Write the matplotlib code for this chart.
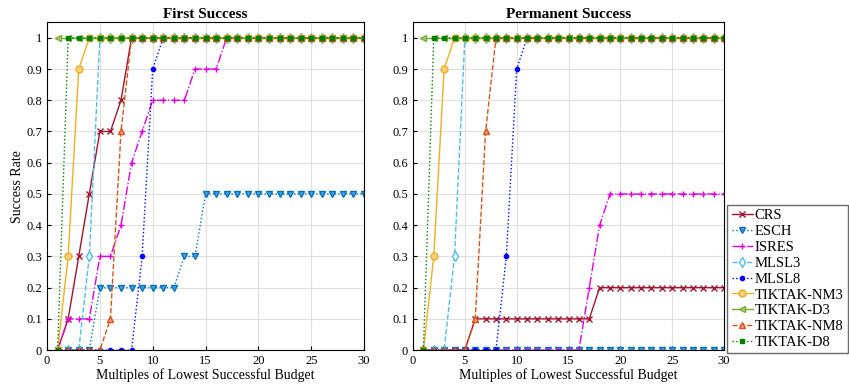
import matplotlib.pyplot as plt

plt.rcParams['font.family'] = ['Liberation Serif', 'DejaVu Serif']

budget = list(range(1, 31))

names = ['CRS', 'ESCH', 'ISRES', 'MLSL3', 'MLSL8',
         'TIKTAK-NM3', 'TIKTAK-D3', 'TIKTAK-NM8', 'TIKTAK-D8']

# first success rates, x = 1..30
first_crs = [0, 0.1, 0.3, 0.5, 0.7, 0.7, 0.8, 1, 1, 1, 1, 1, 1, 1, 1,
             1, 1, 1, 1, 1, 1, 1, 1, 1, 1, 1, 1, 1, 1, 1]
first_esch = [0, 0, 0, 0, 0.2, 0.2, 0.2, 0.2, 0.2, 0.2, 0.2, 0.2, 0.3, 0.3, 0.5,
              0.5, 0.5, 0.5, 0.5, 0.5, 0.5, 0.5, 0.5, 0.5, 0.5, 0.5, 0.5, 0.5, 0.5, 0.5]
first_isres = [0, 0.1, 0.1, 0.1, 0.3, 0.3, 0.4, 0.6, 0.7, 0.8, 0.8, 0.8, 0.8, 0.9, 0.9,
               0.9, 1, 1, 1, 1, 1, 1, 1, 1, 1, 1, 1, 1, 1, 1]
first_mlsl3 = [0, 0, 0, 0.3, 1, 1, 1, 1, 1, 1, 1, 1, 1, 1, 1,
               1, 1, 1, 1, 1, 1, 1, 1, 1, 1, 1, 1, 1, 1, 1]
first_mlsl8 = [0, 0, 0, 0, 0, 0, 0, 0, 0.3, 0.9, 1, 1, 1, 1, 1,
               1, 1, 1, 1, 1, 1, 1, 1, 1, 1, 1, 1, 1, 1, 1]
first_nm3 = [0, 0.3, 0.9, 1, 1, 1, 1, 1, 1, 1, 1, 1, 1, 1, 1,
             1, 1, 1, 1, 1, 1, 1, 1, 1, 1, 1, 1, 1, 1, 1]
first_d3 = [1, 1, 1, 1, 1, 1, 1, 1, 1, 1, 1, 1, 1, 1, 1,
            1, 1, 1, 1, 1, 1, 1, 1, 1, 1, 1, 1, 1, 1, 1]
first_nm8 = [0, 0, 0, 0, 0, 0.1, 0.7, 1, 1, 1, 1, 1, 1, 1, 1,
             1, 1, 1, 1, 1, 1, 1, 1, 1, 1, 1, 1, 1, 1, 1]
first_d8 = [0, 1, 1, 1, 1, 1, 1, 1, 1, 1, 1, 1, 1, 1, 1,
            1, 1, 1, 1, 1, 1, 1, 1, 1, 1, 1, 1, 1, 1, 1]

# permanent success rates
perm_crs = [0, 0, 0, 0, 0, 0.1, 0.1, 0.1, 0.1, 0.1, 0.1, 0.1, 0.1, 0.1, 0.1,
            0.1, 0.1, 0.2, 0.2, 0.2, 0.2, 0.2, 0.2, 0.2, 0.2, 0.2, 0.2, 0.2, 0.2, 0.2]
perm_esch = [0, 0, 0, 0, 0, 0, 0, 0, 0, 0, 0, 0, 0, 0, 0,
             0, 0, 0, 0, 0, 0, 0, 0, 0, 0, 0, 0, 0, 0, 0]
perm_isres = [0, 0, 0, 0, 0, 0, 0, 0, 0, 0, 0, 0, 0, 0, 0,
              0, 0.2, 0.4, 0.5, 0.5, 0.5, 0.5, 0.5, 0.5, 0.5, 0.5, 0.5, 0.5, 0.5, 0.5]
perm_mlsl3 = [0, 0, 0, 0.3, 1, 1, 1, 1, 1, 1, 1, 1, 1, 1, 1,
              1, 1, 1, 1, 1, 1, 1, 1, 1, 1, 1, 1, 1, 1, 1]
perm_mlsl8 = [0, 0, 0, 0, 0, 0, 0, 0, 0.3, 0.9, 1, 1, 1, 1, 1,
              1, 1, 1, 1, 1, 1, 1, 1, 1, 1, 1, 1, 1, 1, 1]
perm_nm3 = [0, 0.3, 0.9, 1, 1, 1, 1, 1, 1, 1, 1, 1, 1, 1, 1,
            1, 1, 1, 1, 1, 1, 1, 1, 1, 1, 1, 1, 1, 1, 1]
perm_d3 = [1, 1, 1, 1, 1, 1, 1, 1, 1, 1, 1, 1, 1, 1, 1,
           1, 1, 1, 1, 1, 1, 1, 1, 1, 1, 1, 1, 1, 1, 1]
perm_nm8 = [0, 0, 0, 0, 0, 0.1, 0.7, 1, 1, 1, 1, 1, 1, 1, 1,
            1, 1, 1, 1, 1, 1, 1, 1, 1, 1, 1, 1, 1, 1, 1]
perm_d8 = [0, 1, 1, 1, 1, 1, 1, 1, 1, 1, 1, 1, 1, 1, 1,
           1, 1, 1, 1, 1, 1, 1, 1, 1, 1, 1, 1, 1, 1, 1]

first = [first_crs, first_esch, first_isres, first_mlsl3, first_mlsl8,
         first_nm3, first_d3, first_nm8, first_d8]
perm = [perm_crs, perm_esch, perm_isres, perm_mlsl3, perm_mlsl8,
        perm_nm3, perm_d3, perm_nm8, perm_d8]

styles = [
    dict(color='#A2142F', ls='-', marker='x', ms=4, mfc='#A2142F'),
    dict(color='#0072BD', ls=':', marker='v', ms=5, mfc='#4DA3DD'),
    dict(color='#E000E0', ls='-.', marker='+', ms=4, mfc='#E000E0'),
    dict(color='#4DBEEE', ls='--', marker='d', ms=5, mfc='white'),
    dict(color='#0000FF', ls=':', marker='o', ms=3, mfc='#0000FF'),
    dict(color='#EDB120', ls='-', marker='o', ms=5, mfc='#F5D080'),
    dict(color='#77AC30', ls='-', marker='<', ms=5, mfc='#A8CC80'),
    dict(color='#D95319', ls='--', marker='^', ms=5, mfc='#F0A080'),
    dict(color='#008000', ls=':', marker='s', ms=3, mfc='#008000'),
]

fig = plt.figure(figsize=(8.49, 3.89), dpi=100)
ax1 = fig.add_axes([0.0554, 0.100, 0.3734, 0.843])
ax2 = fig.add_axes([0.4865, 0.100, 0.3663, 0.843])

for ax, data, title in [(ax1, first, 'First Success'), (ax2, perm, 'Permanent Success')]:
    for name, vals, st in zip(names, data, styles):
        ax.plot(budget, vals, label=name, lw=1.0, color=st['color'], ls=st['ls'],
                marker=st['marker'], ms=st['ms'], mfc=st['mfc'], mec=st['color'])
    ax.set_xlim(0, 30)
    ax.set_ylim(0, 1.05)
    ax.set_xticks(range(0, 31, 5))
    ax.set_yticks([i / 10 for i in range(11)])
    ax.set_yticklabels(['0', '0.1', '0.2', '0.3', '0.4', '0.5', '0.6', '0.7', '0.8', '0.9', '1'])
    ax.grid(True, color='#e0e0e0', lw=0.8)
    ax.tick_params(labelsize=9, direction='in', length=3)
    ax.set_title(title, fontsize=11, fontweight='bold', pad=3)
    ax.set_xlabel('Multiples of Lowest Successful Budget', fontsize=10, labelpad=1)

ax1.set_ylabel('Success Rate', fontsize=10, labelpad=2)

ax2.legend(loc='lower left', bbox_to_anchor=(1.01, -0.01), fontsize=10.5,
           frameon=True, fancybox=False, edgecolor='#444444', handlelength=1.5,
           handletextpad=0.1, borderpad=0.3, labelspacing=0.18, borderaxespad=0)

fig.savefig('out.png', dpi=100)
